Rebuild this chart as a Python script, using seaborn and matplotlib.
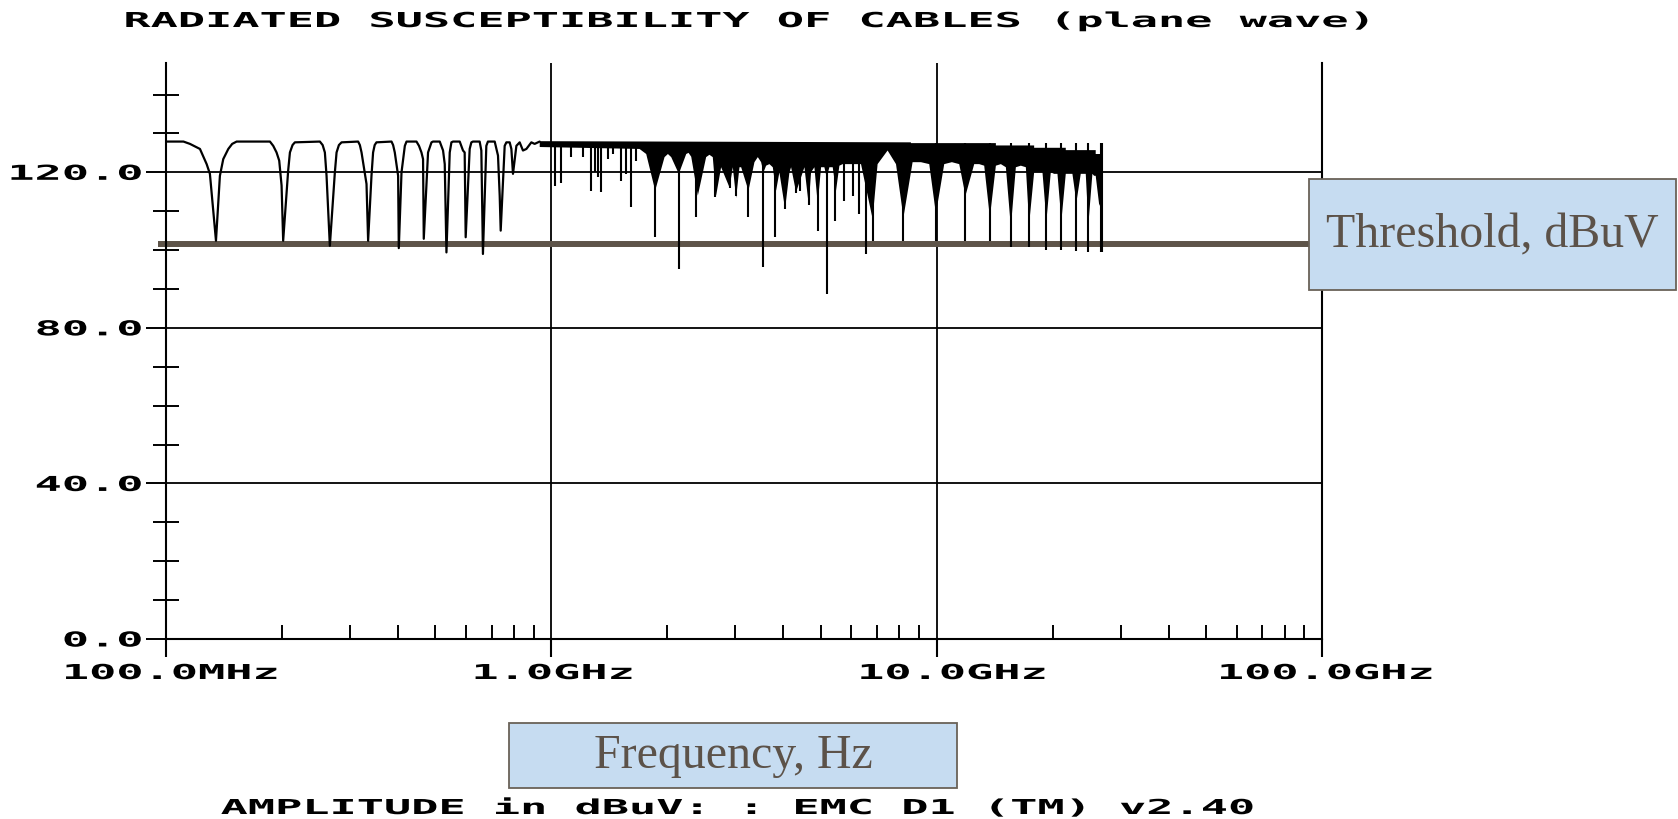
import numpy as np
import pandas as pd
import matplotlib
matplotlib.use("Agg")
import matplotlib.pyplot as plt
import seaborn as sns
from matplotlib.patheffects import AbstractPathEffect
from matplotlib.transforms import Affine2D, offset_copy
from matplotlib.patches import Rectangle
from matplotlib.ticker import FixedLocator

# ---------------- data ----------------
title = "RADIATED SUSCEPTIBILITY OF CABLES (plane wave)"
footer = "AMPLITUDE in dBuV: : EMC D1 (TM) v2.40"
ytick_vals = [0, 40, 80, 120]
ytick_labels = ["0.0", "40.0", "80.0", "120.0"]
xtick_vals_mhz = [100, 1000, 10000, 100000]
xtick_labels = ["100.0MHz", "1.0GHz", "10.0GHz", "100.0GHz"]
threshold_db = 101.5
threshold_label = "Threshold, dBuV"
xaxis_label = "Frequency, Hz"

# low-frequency lobes (100 MHz - ~0.93 GHz): curve vertices
lobe_f_mhz = [100, 111, 115.4, 122.5, 127.5, 130, 134.8,
              138, 140.8, 145.1, 148.5, 152.5, 186.1, 189.8, 193.6, 196.7, 199.5, 201.4,
              207.5, 209.7, 213, 216, 250.8, 255, 258.4, 261, 266.2,
              274.3, 277.1, 281, 285.5, 315.2, 318.5, 321.7, 331.4, 334.6,
              341.4, 344.7, 348, 351.7, 384.8, 388.5, 392.4, 400.3, 401.9,
              408.5, 416.7, 420.9, 446.7, 453.5, 460.2, 464.6, 466.6,
              478.7, 488.6, 493.2, 513.3, 523.6, 528.9, 534.3,
              544.9, 550.4, 555.8, 578.4, 589.9, 595.8, 599.4,
              613.9, 620.1, 626.1, 651.6, 658.2, 664.5,
              678.1, 684.6, 712.9, 727.1, 734.5, 738.9,
              756.7, 764.4, 779.7, 787.6, 795.2,
              811.5, 827.6, 844.1, 861.4, 887.5, 905, 932.6]
lobe_db = [127.9, 127.9, 127.3, 126.0, 122.1, 119.6, 102.4,
           119.1, 123.4, 126.0, 127.3, 127.9, 127.9, 126.8, 125.1, 123.0, 116.6, 102.4,
           120.4, 125.1, 127.0, 127.7, 127.9, 127.0, 125.1, 119.1, 101.1,
           120.0, 125.1, 127.0, 127.7, 127.9, 127.0, 125.1, 117.0, 102.4,
           119.1, 125.1, 127.0, 127.7, 127.9, 127.0, 125.1, 119.1, 100.5,
           120.0, 126.8, 127.9, 127.9, 126.8, 125.1, 123.4, 102.9,
           125.1, 127.7, 127.9, 127.9, 125.6, 122.1, 99.4,
           125.1, 127.7, 127.9, 127.9, 125.6, 125.1, 103.3,
           126.0, 127.7, 127.9, 127.9, 125.6, 99.0,
           126.8, 127.9, 127.9, 124.3, 114.0, 105.0,
           126.8, 127.7, 127.7, 126.0, 119.6,
           126.8, 127.7, 125.6, 126.0, 127.7, 127.3, 127.9]

# dense region (0.93 - 27 GHz): upper envelope of the black band
band_top_f_mhz = [933, 8574, 8574, 14245, 14245, 17905, 17905, 21630, 21630, 25866, 25866, 26921]
band_top_db = [128.0, 127.7, 127.5, 127.5, 126.9, 126.9, 126.3, 126.3, 125.7, 125.7, 124.7, 124.7]

# lower edge of the black band
band_bot_f_mhz = [933, 1694, 1763, 1860, 1967, 2007, 2047, 2142, 2239, 2270, 2307, 2400, 2522, 2572,
                  2624, 2677, 2758, 2900, 2958, 3017, 3078, 3109, 3248, 3366, 3434, 3503, 3553, 3609,
                  3681, 3756, 3831, 3907, 4042, 4149, 4190, 4317, 4492, 4537, 4656, 4721, 4816, 4913,
                  5012, 5112, 5184, 5267, 5373, 5481, 5592, 5703, 6363, 6820, 7026, 7459, 7843, 8200,
                  8660, 9104, 9567, 9956, 10462, 10952, 11444, 11880, 12515, 12895, 13286, 13743,
                  14245, 14677, 15121, 15580, 16052, 16538, 17039, 17378, 17905, 18374, 18818, 19271,
                  19777, 20174, 20581, 21076, 21630, 22064, 22506, 23051, 23655, 23988, 24373, 24764,
                  25359, 25618, 25866, 26390, 26921]
band_bot_db = [126.5, 126.0, 124.7, 115.3, 123.9, 124.7, 123.9, 119.6, 124.7, 125.0, 124.0, 114.0,
               123.9, 124.5, 123.9, 114.0, 121.3, 116.1, 121.3, 113.4, 121.3, 121.3, 115.3, 122.6,
               123.9, 122.6, 120.0, 121.7, 122.1, 121.3, 115.3, 120.0, 110.6, 120.0, 121.3, 114.9,
               120.0, 121.3, 111.6, 120.0, 121.3, 111.9, 121.3, 121.3, 118.7, 121.3, 121.3, 115.3,
               121.7, 122.1, 122.1, 108.0, 122.1, 125.6, 122.1, 108.4, 122.6, 122.6, 122.1, 109.3,
               122.1, 122.6, 122.1, 114.0, 122.1, 122.1, 121.7, 108.4, 121.7, 122.1, 121.3, 105.9,
               121.3, 121.7, 121.3, 106.7, 120.0, 120.0, 120.0, 107.6, 120.0, 119.6, 119.6, 107.6,
               119.6, 119.6, 119.6, 112.3, 119.6, 119.6, 119.6, 106.7, 119.6, 119.1, 119.1, 111.9,
               110.0]

# individual deep nulls (spikes)
spike_f_mhz = [1020, 1061, 1127, 1208, 1270, 1295, 1321, 1342, 1402, 1445, 1519, 1564, 1605, 1661,
               1860, 2142, 2376, 2661, 2900, 3017, 3248, 3553, 3816, 4042, 4317, 4421, 4656, 4913,
               5184, 5450, 5759, 6053, 6300, 6555, 6820, 8200, 9956, 11880, 13743, 15580, 17378,
               19271, 21076, 23051, 24764, 26652, 26900]
spike_db = [116.4, 117.2, 124.0, 123.9, 115.3, 120.0, 118.7, 114.9, 123.5, 124.7, 117.7, 119.5, 111.1,
            123.0, 103.4, 95.1, 108.5, 113.7, 116.0, 114.0, 108.5, 95.7, 103.3, 110.5, 114.8, 115.3,
            111.7, 105.0, 88.6, 107.6, 112.7, 114.0, 109.3, 99.1, 102.4, 102.4, 102.4, 102.4, 102.4,
            100.7, 100.7, 100.1, 100.1, 99.8, 99.4, 99.4, 99.4]


# ---------------- helpers ----------------
class StretchX(AbstractPathEffect):
    """Widen glyphs horizontally (imitates the wide bitmap font)."""

    def __init__(self, sx, anchor="left"):
        super().__init__()
        self.sx = sx
        self.anchor = anchor

    def draw_path(self, renderer, gc, tpath, affine, rgbFace=None):
        ext = tpath.get_extents()
        if self.anchor == "left":
            a = ext.x0
        elif self.anchor == "right":
            a = ext.x1
        else:
            a = 0.5 * (ext.x0 + ext.x1)
        t = Affine2D().translate(-a, 0).scale(self.sx, 1.0).translate(a, 0) + affine
        renderer.draw_path(gc, tpath, t, rgbFace)


SX = 2.2
MONO = dict(family="DejaVu Sans Mono", weight="bold", size=14.8, color="black")

sns.set_theme(style="white")
plt.rcParams["font.family"] = ["DejaVu Sans"]

W, H = 1678, 820
fig = plt.figure(figsize=(W / 100, H / 100), dpi=100)
fig.patch.set_facecolor("white")
ax = fig.add_axes([166 / W, 1 - 640 / H, 1156 / W, 576 / H])
ax.set_facecolor("white")
ax.set_xscale("log")
ax.set_xlim(100, 100000)
ax.set_ylim(0, 148.1)

# threshold line
ax.axhline(threshold_db, xmin=-8 / 1156, xmax=1.0, color="#5E5449", lw=4.3,
           clip_on=False, zorder=2, solid_capstyle="butt")

# dense band
poly_x = band_top_f_mhz + band_bot_f_mhz[::-1]
poly_y = band_top_db + band_bot_db[::-1]
ax.fill(poly_x, poly_y, color="black", lw=0, zorder=3)
ax.vlines(spike_f_mhz, spike_db, 127.5, color="black", lw=1.5, zorder=3)

# low-frequency lobes
sns.lineplot(x=lobe_f_mhz, y=lobe_db, sort=False, estimator=None, color="black",
             lw=1.6, ax=ax, zorder=3)

# axes styling
ax.spines["top"].set_visible(False)
for s in ["left", "bottom", "right"]:
    ax.spines[s].set_color("black")
    ax.spines[s].set_linewidth(1.5)

ax.xaxis.set_major_locator(FixedLocator(xtick_vals_mhz))
ax.xaxis.set_minor_locator(FixedLocator([m * d for d in (100, 1000, 10000) for m in range(2, 10)]))
ax.yaxis.set_major_locator(FixedLocator(ytick_vals))
ax.yaxis.set_minor_locator(FixedLocator([v for v in range(10, 150, 10) if v % 40 != 0]))
ax.grid(True, which="major", color="black", lw=1.3)
ax.grid(False, which="minor")
ax.tick_params(axis="x", which="major", direction="out", length=13, width=1.5, color="black",
               bottom=True, labelbottom=False)
ax.tick_params(axis="x", which="minor", direction="in", length=10, width=1.4, color="black",
               bottom=True, labelbottom=False)
ax.tick_params(axis="y", which="major", direction="out", length=14.4, width=1.4, color="black",
               left=True, labelleft=False)
ax.tick_params(axis="y", which="minor", direction="inout", length=19.4, width=1.4, color="black",
               left=True, labelleft=False)
ax.set_xlabel("")
ax.set_ylabel("")

# tick labels (wide bitmap-like font)
for v, lab in zip(ytick_vals, ytick_labels):
    ax.text(100, v, lab, transform=offset_copy(ax.transData, fig=fig, x=-24, y=-7.5, units="dots"),
            ha="right", va="baseline", clip_on=False, path_effects=[StretchX(SX, "right")], **MONO)
xlabel_shift_px = [5, 2, 16, 4]
for f, lab, dx in zip(xtick_vals_mhz, xtick_labels, xlabel_shift_px):
    ax.text(f, 0, lab, transform=offset_copy(ax.transData, fig=fig, x=dx, y=-40, units="dots"),
            ha="center", va="baseline", clip_on=False, path_effects=[StretchX(SX, "center")], **MONO)

fig.text(125 / W, 1 - 28 / H, title, ha="left", va="baseline",
         path_effects=[StretchX(SX, "left")], **MONO)
fig.text(221 / W, 1 - 815 / H, footer, ha="left", va="baseline",
         path_effects=[StretchX(SX, "left")], **MONO)

# annotation boxes
BOX_FC = "#C6DCF1"
BOX_EC = "#6A6258"
TXT_C = "#5C5249"
for (x0, y0, x1, y1, txt) in [(1309, 180, 1676, 291, threshold_label),
                              (509, 724, 957, 789, xaxis_label)]:
    fig.add_artist(Rectangle((x0 / W, 1 - y1 / H), (x1 - x0) / W, (y1 - y0) / H,
                             transform=fig.transFigure, facecolor=BOX_FC, edgecolor=BOX_EC,
                             lw=1.3, zorder=10))
    fig.text((x0 + x1) / 2 / W, 1 - (y0 + y1) / 2 / H, txt, ha="center", va="center",
             family="Liberation Serif", size=34.5, color=TXT_C, zorder=11)

fig.savefig("out.png", dpi=100, facecolor="white")
